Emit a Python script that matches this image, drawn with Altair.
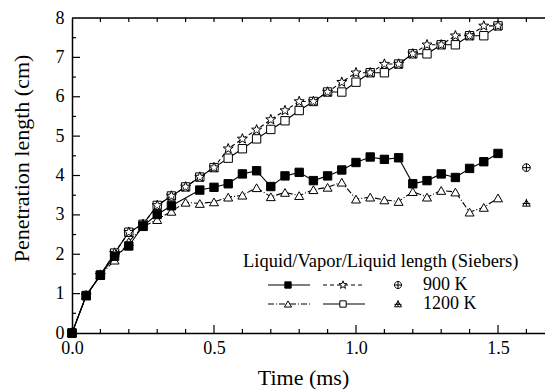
import altair as alt
import pandas as pd

time = [0.00, 0.05, 0.10, 0.15, 0.20, 0.25, 0.30, 0.35, 0.40, 0.45, 0.50,
        0.55, 0.60, 0.65, 0.70, 0.75, 0.80, 0.85, 0.90, 0.95, 1.00,
        1.05, 1.10, 1.15, 1.20, 1.25, 1.30, 1.35, 1.40, 1.45, 1.50]
liquid_900 = [0.00, 0.95, 1.47, 1.95, 2.21, 2.72, 3.01, 3.23, None, 3.63, 3.70,
              3.79, 4.04, 4.12, 3.72, 3.99, 4.08, 3.87, 3.99, 4.14, 4.33,
              4.47, 4.41, 4.45, 3.79, 3.87, 4.04, 3.95, 4.18, 4.35, 4.56]
vapor_900 = [0.00, 0.95, 1.47, 2.03, 2.56, 2.76, 3.24, 3.48, 3.71, 3.96, 4.20,
             4.68, 4.93, 5.16, 5.42, 5.65, 5.88, 5.88, 6.12, 6.37, 6.61,
             6.61, 6.83, 6.83, 7.09, 7.32, 7.32, 7.55, 7.55, 7.80, 7.80]
liquid_1200 = [0.00, 0.95, 1.47, 1.85, 2.32, 2.70, 2.88, 3.09, 3.32, 3.29, 3.33,
               3.45, 3.50, 3.69, 3.46, 3.57, 3.49, 3.64, 3.70, 3.83, 3.40,
               3.45, 3.38, 3.34, 3.59, 3.45, 3.62, 3.58, 3.07, 3.19, 3.43]
vapor_1200 = [0.00, 0.95, 1.47, 2.03, 2.56, 2.76, 3.24, 3.48, 3.71, 3.96, 4.20,
              4.44, 4.68, 4.93, 5.17, 5.39, 5.65, 5.88, 6.12, 6.12, 6.37,
              6.61, 6.61, 6.83, 7.09, 7.09, 7.32, 7.32, 7.55, 7.55, 7.80]
siebers_time = [1.6]
siebers_900 = [4.20]
siebers_1200 = [3.30]

x_labels = [0.0, 0.5, 1.0, 1.5]
x_major_ticks = [0.5, 1.0, 1.5]
x_minor_ticks = [0.1, 0.2, 0.3, 0.4, 0.6, 0.7, 0.8, 0.9, 1.1, 1.2, 1.3, 1.4, 1.6]
x_top_ticks = [0.1, 0.2, 0.3, 0.4, 0.5, 0.6, 0.7, 0.8, 0.9, 1.0, 1.1, 1.2, 1.3, 1.4, 1.5, 1.6]
y_labels = [0, 1, 2, 3, 4, 5, 6, 7, 8]
y_major_ticks = [1, 2, 3, 4, 5, 6, 7]
y_minor_ticks = [0.5, 1.5, 2.5, 3.5, 4.5, 5.5, 6.5, 7.5]

legend_title = "Liquid/Vapor/Liquid length (Siebers)"
legend_rows = ["900 K", "1200 K"]

W, H = 473, 315
FONT = "Liberation Serif, Times New Roman, DejaVu Serif, serif"

STAR = ("M 0 -1 L 0.247 -0.34 L 0.951 -0.309 L 0.399 0.13 L 0.588 0.809 "
        "L 0 0.42 L -0.588 0.809 L -0.399 0.13 L -0.951 -0.309 L -0.247 -0.34 Z")
CIRCLE_PLUS = ("M -1 0 A 1 1 0 1 0 1 0 A 1 1 0 1 0 -1 0 Z "
               "M -1 0 L 1 0 M 0 -1 L 0 1")
TRI_CROSS = "M -1 0.8 L 0 -0.8 L 1 0.8 Z M 0 -1.1 L 0 0.8 M -1 0.1 L 1 0.1"


def series_df(vals):
    d = pd.DataFrame({"t": time, "v": vals})
    return d.dropna()


xs = alt.Scale(domain=[0, 1.6655], nice=False, zero=False)
ys = alt.Scale(domain=[0, 8], nice=False)

xaxis = alt.Axis(values=x_labels, format=".1f", ticks=False, grid=False,
                 domainColor="black", domainWidth=1.5, labelFont=FONT,
                 labelFontSize=18, labelColor="black", labelPadding=6,
                 labelFlush=False, labelOverlap=False,
                 title="Time (ms)", titleFont=FONT, titleFontSize=22,
                 titleFontWeight="normal", titleColor="black",
                 titleX=231, titleY=51, titleBaseline="alphabetic")
yaxis = alt.Axis(values=y_labels, format="d", ticks=False, grid=False,
                 domainColor="black", domainWidth=1.5, labelFont=FONT,
                 labelFontSize=18, labelColor="black", labelPadding=8,
                 labelOverlap=False,
                 title="Penetration length (cm)", titleFont=FONT, titleFontSize=22,
                 titleFontWeight="normal", titleColor="black",
                 titleX=-44, titleY=140, titleBaseline="alphabetic")

X = alt.X("t:Q", scale=xs, axis=xaxis)
Y = alt.Y("v:Q", scale=ys, axis=yaxis)


def series(vals, shape, filled_black, dash, size):
    d = series_df(vals)
    line_kw = dict(color="black", strokeWidth=1.1)
    if dash:
        line_kw["strokeDash"] = dash
    line = alt.Chart(d).mark_line(**line_kw).encode(x=X, y=Y)
    pts = alt.Chart(d).mark_point(
        shape=shape, filled=True, fill="black" if filled_black else "white",
        stroke="black", strokeWidth=1, size=size, opacity=1
    ).encode(x=X, y=Y)
    return [line, pts]


layers = []
layers += series(vapor_1200, "square", False, None, 70)
layers += series(vapor_900, STAR, False, [4, 3], 110)
layers += series(liquid_1200, "triangle-up", False, [6, 2, 1, 2], 80)
layers += series(liquid_900, "square", True, None, 70)

s900 = pd.DataFrame({"t": siebers_time, "v": siebers_900})
s1200 = pd.DataFrame({"t": siebers_time, "v": siebers_1200})
layers.append(alt.Chart(s900).mark_point(shape=CIRCLE_PLUS, filled=False, stroke="black",
                                         strokeWidth=1, size=60, opacity=1).encode(x=X, y=Y))
layers.append(alt.Chart(s1200).mark_point(shape=TRI_CROSS, filled=False, stroke="black",
                                          strokeWidth=1, size=60, opacity=1).encode(x=X, y=Y))


def xticks(vals, y0, y1):
    d = pd.DataFrame({"t": vals})
    return alt.Chart(d).mark_rule(color="black", strokeWidth=1.2).encode(
        x=X, y=alt.value(y0), y2=alt.value(y1))


def yticks(vals, length):
    d = pd.DataFrame({"v": vals})
    return alt.Chart(d).mark_rule(color="black", strokeWidth=1.2).encode(
        y=Y, x=alt.value(0), x2=alt.value(length))


layers.append(xticks(x_major_ticks, H, H - 8))
layers.append(xticks(x_minor_ticks, H, H - 4))
layers.append(xticks(x_top_ticks, 0, 4))
layers.append(yticks(y_major_ticks, 8))
layers.append(yticks(y_minor_ticks, 4))

dummy = pd.DataFrame({"a": [0]})
layers.append(alt.Chart(dummy).mark_rule(color="black", strokeWidth=1.5).encode(
    x=alt.value(0), x2=alt.value(W), y=alt.value(0)))

r1, r2 = 267, 286
layers.append(alt.Chart(dummy).mark_text(text=legend_title, font=FONT, fontSize=18.5,
                                         align="left", baseline="middle", color="black").encode(
    x=alt.value(171), y=alt.value(243)))
for txt, yy in zip(legend_rows, [r1, r2]):
    layers.append(alt.Chart(dummy).mark_text(text=txt, font=FONT, fontSize=18,
                                             align="left", baseline="middle", color="black").encode(
        x=alt.value(351), y=alt.value(yy)))


def leg_line(x0, x1, yy, dash):
    kw = dict(color="black", strokeWidth=1.1)
    if dash:
        kw["strokeDash"] = dash
    return alt.Chart(dummy).mark_rule(**kw).encode(
        x=alt.value(x0), x2=alt.value(x1), y=alt.value(yy))


def leg_pt(xx, yy, shape, fill, size, filled=True):
    kw = dict(shape=shape, stroke="black", strokeWidth=1, size=size, opacity=1)
    if filled:
        kw.update(filled=True, fill=fill)
    else:
        kw.update(filled=False)
    return alt.Chart(dummy).mark_point(**kw).encode(x=alt.value(xx), y=alt.value(yy))


layers.append(leg_line(196, 238, r1, None))
layers.append(leg_pt(216, r1, "square", "black", 40))
layers.append(leg_line(251, 293, r1, [4, 3]))
layers.append(leg_pt(271, r1, STAR, "white", 70))
layers.append(leg_pt(326, r1, CIRCLE_PLUS, None, 50, filled=False))
layers.append(leg_line(196, 238, r2, [6, 2, 1, 2]))
layers.append(leg_pt(216, r2, "triangle-up", "white", 50))
layers.append(leg_line(251, 293, r2, None))
layers.append(leg_pt(271, r2, "square", "white", 40))
layers.append(leg_pt(326, r2, TRI_CROSS, None, 50, filled=False))

chart = alt.layer(*layers).properties(
    width=W, height=H,
    autosize=alt.AutoSizeParams(type="none"),
    padding={"left": 64, "top": 10, "right": 0, "bottom": 58}
).configure_view(stroke=None).configure(background="white", font=FONT)

chart.save("out.html", embed_options={"renderer": "svg", "actions": False})
